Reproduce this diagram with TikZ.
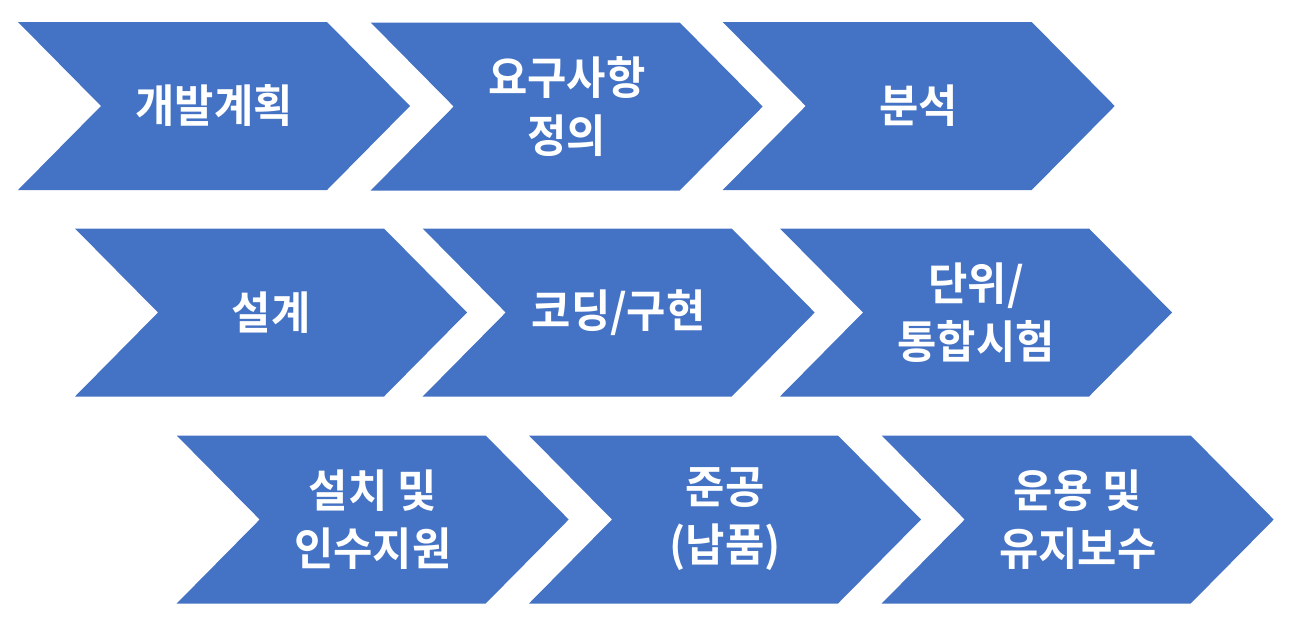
\documentclass[tikz,border=0pt]{standalone}
\usepackage{fontspec}
\newfontfamily\krfont[BoldFont={Noto Sans CJK KR Bold},FakeStretch=0.95]{Noto Sans CJK KR}
\definecolor{chevblue}{HTML}{4472C4}
\tikzset{
  chevfill/.style={fill=chevblue, draw=none},
  chevtext/.style={text=white, align=center, font=\krfont\bfseries\fontsize{45}{58}\selectfont, inner sep=0pt}
}
\newcommand\mychev[4]{%
  \path[chevfill] (#2,#3) -- ++(309,0) -- ++(83,84) -- ++(-83,84) -- ++(-309,0) -- ++(83,-84) -- cycle;
  \node[chevtext] (#1) at (#2+196,#3+84) {#4};
}
\begin{document}
\begin{tikzpicture}[x=1pt,y=-1pt]
\useasboundingbox (0,0) rectangle (1289,625);
\mychev{c1}{18}{22}{개발계획}
\mychev{c2}{370.7}{22.5}{요구사항\\정의}
\mychev{c3}{722.7}{22}{분석}
\mychev{c4}{75}{228.5}{설계}
\mychev{c5}{422.7}{228.5}{코딩/구현}
\mychev{c6}{780}{228.5}{단위/\\통합시험}
\mychev{c7}{176.7}{435.5}{설치 및\\인수지원}
\mychev{c8}{529}{435.5}{준공\\(납품)}
\mychev{c9}{881.7}{435.5}{운용 및\\유지보수}
\end{tikzpicture}
\end{document}
